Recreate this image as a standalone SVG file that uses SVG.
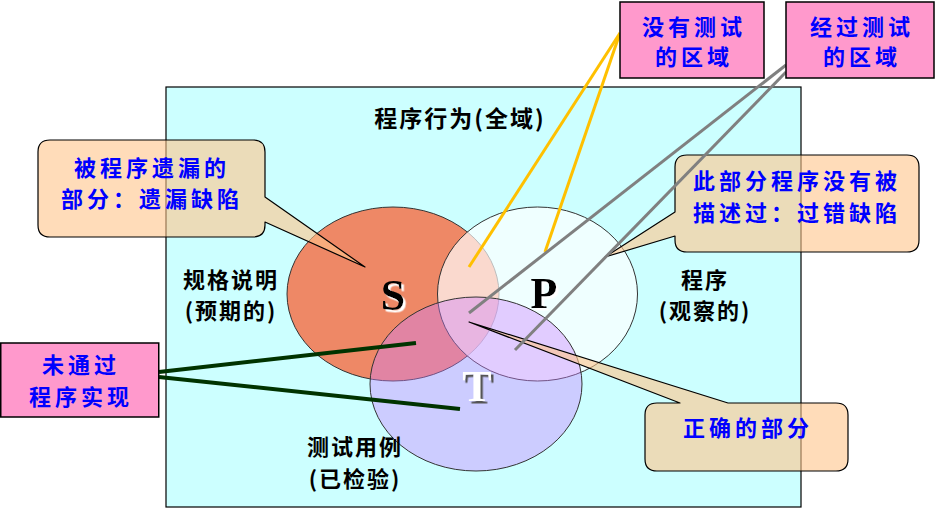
<svg xmlns="http://www.w3.org/2000/svg" width="935" height="510" viewBox="0 0 935 510">
<defs>
<filter id="shW" x="-20%" y="-20%" width="160%" height="160%">
<feDropShadow dx="2.5" dy="2.5" stdDeviation="0.6" flood-color="#FFFFFF" flood-opacity="1"/>
</filter>
<filter id="shD" x="-20%" y="-20%" width="160%" height="160%">
<feDropShadow dx="2.5" dy="2.5" stdDeviation="0.6" flood-color="#555555" flood-opacity="1"/>
</filter>
</defs>
<style>
.cn{font-family:"Noto Sans CJK SC","Noto Sans CJK JP",sans-serif;}
.blue{fill:#0000FF;font-size:22px;font-weight:bold;letter-spacing:4px;text-anchor:middle;}
.blk{fill:#000;font-size:22px;font-weight:bold;letter-spacing:2px;text-anchor:middle;}
.big{font-family:"Liberation Serif","Times New Roman",serif;font-size:44px;font-weight:bold;text-anchor:middle;}
.pink{fill:#FF99CC;stroke:#000;stroke-width:1.5;}
.call{fill:rgb(255,196,138);fill-opacity:0.6;stroke:#000;stroke-width:1.2;stroke-linejoin:round;}
.yl{stroke:#FFC000;stroke-width:3;fill:none;}
.gr{stroke:#808080;stroke-width:3;fill:none;}
.gn{stroke:#003300;stroke-width:4;fill:none;}
</style>
<rect width="935" height="510" fill="#FFFFFF"/>
<g id="universe">
<rect x="166" y="87" width="635" height="420" fill="#CCFFFF" stroke="#000" stroke-width="1.2"/>
<text class="cn blk" x="460" y="127" style="font-size:23px">程序行为(全域)</text>
</g>
<g id="S">
<ellipse cx="393" cy="294" rx="106" ry="87" fill="#EE8866" stroke="#333" stroke-width="1"/>
</g>
<g id="P">
<ellipse cx="537.5" cy="294" rx="100" ry="87" fill="#FFFFFF" fill-opacity="0.68" stroke="#333" stroke-width="1"/>
</g>
<g id="T">
<ellipse cx="476" cy="384" rx="106" ry="87" fill="rgb(204,128,255)" fill-opacity="0.4" stroke="#333" stroke-width="1"/>
</g>
<g id="labels">
<text class="cn blk" x="231" y="288">规格说明</text>
<text class="cn blk" x="231" y="319">(预期的)</text>
<text class="cn blk" x="705" y="288">程序</text>
<text class="cn blk" x="705" y="319">(观察的)</text>
<text class="cn blk" x="355" y="455">测试用例</text>
<text class="cn blk" x="355" y="487">(已检验)</text>
<text class="big" x="393" y="310" fill="#000" filter="url(#shW)">S</text>
<text class="big" x="544" y="308" fill="#000" filter="url(#shW)">P</text>
<text class="big" x="477" y="401" fill="#FFFFFF" filter="url(#shD)">T</text>
</g>
<g id="callout-missing">
<path class="call" d="M50,140 H253 Q265,140 265,152 V197 L365,267 L265,222 V225 Q265,237 253,237 H50 Q38,237 38,225 V152 Q38,140 50,140 Z"/>
<text class="cn blue" x="152" y="176">被程序遗漏的</text>
<text class="cn blue" x="152" y="207">部分：遗漏缺陷</text>
</g>
<g id="callout-error">
<path class="call" d="M687,155 H907 Q919,155 919,167 V240 Q919,252 907,252 H687 Q675,252 675,240 V236 L605,257 L675,212 V167 Q675,155 687,155 Z"/>
<text class="cn blue" x="797" y="189">此部分程序没有被</text>
<text class="cn blue" x="797" y="221">描述过：过错缺陷</text>
</g>
<g id="callout-correct">
<path class="call" d="M657,403 H680 L469,322 L728,403 H836 Q848,403 848,415 V459 Q848,471 836,471 H657 Q645,471 645,459 V415 Q645,403 657,403 Z"/>
<text class="cn blue" x="748" y="436">正确的部分</text>
</g>
<g id="connectors">
<line class="yl" x1="620" y1="33" x2="469" y2="267"/>
<line class="yl" x1="620" y1="33" x2="545" y2="252"/>
<line class="gr" x1="786" y1="65" x2="469" y2="313"/>
<line class="gr" x1="786" y1="72" x2="515" y2="350"/>
<line class="gn" x1="159" y1="372" x2="416" y2="343"/>
<line class="gn" x1="159" y1="377" x2="460" y2="409"/>
</g>
<g id="box-untested">
<rect class="pink" x="620" y="2" width="144" height="76"/>
<text class="cn blue" x="694" y="35">没有测试</text>
<text class="cn blue" x="694" y="65">的区域</text>
</g>
<g id="box-tested">
<rect class="pink" x="786" y="2" width="148" height="76"/>
<text class="cn blue" x="862" y="35">经过测试</text>
<text class="cn blue" x="862" y="65">的区域</text>
</g>
<g id="box-notimpl">
<rect class="pink" x="0.75" y="343" width="158" height="74"/>
<text class="cn blue" x="81" y="373">未通过</text>
<text class="cn blue" x="81" y="405">程序实现</text>
</g>
</svg>
